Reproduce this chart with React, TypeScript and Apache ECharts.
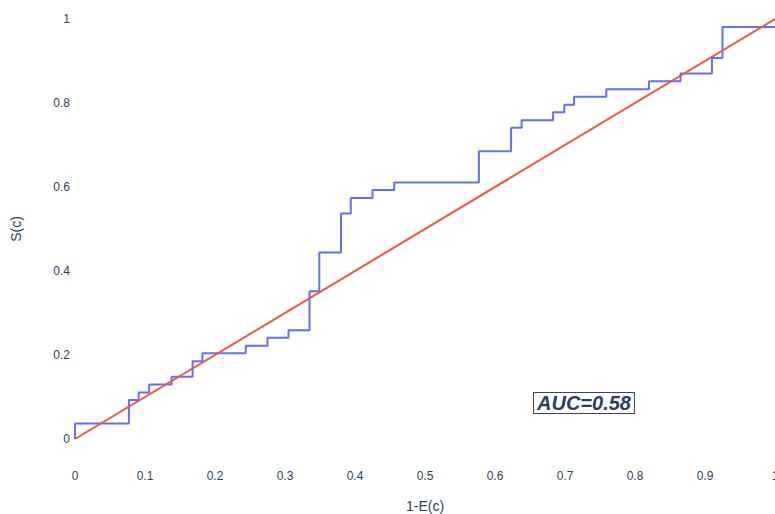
import React, { useEffect, useRef } from "react";
import * as echarts from "echarts";

const stepX = [0, 0, 0.077, 0.091, 0.106, 0.138, 0.168, 0.182, 0.244, 0.275, 0.305, 0.335, 0.349, 0.38, 0.394, 0.425, 0.456, 0.577, 0.623, 0.638, 0.683, 0.699, 0.713, 0.759, 0.82, 0.865, 0.91, 0.925, 1];
const stepY = [0, 0.037, 0.093, 0.111, 0.13, 0.148, 0.185, 0.204, 0.222, 0.241, 0.259, 0.352, 0.444, 0.537, 0.574, 0.593, 0.611, 0.685, 0.741, 0.759, 0.778, 0.796, 0.815, 0.833, 0.852, 0.87, 0.907, 0.981, 0.981];
const diagX = [0, 1];
const diagY = [0, 1];
const aucLabel = "AUC=0.58";

const FONT = "Liberation Sans, Arial, sans-serif";
const TXT = "#2a3f5f";

export default function App() {
  const ref = useRef<HTMLDivElement>(null);
  useEffect(() => {
    if (!ref.current) return;
    const chart = echarts.init(ref.current, null, { renderer: "svg" });
    chart.setOption({
      animation: false,
      backgroundColor: "#ffffff",
      textStyle: { fontFamily: FONT },
      grid: { left: 75, right: 0, top: 19, bottom: 75, containLabel: false, outerBoundsMode: "none" },
      xAxis: {
        type: "value",
        min: 0,
        max: 1,
        interval: 0.1,
        name: "1-E(c)",
        nameLocation: "middle",
        nameGap: 60,
        nameTextStyle: { color: TXT, fontSize: 14, fontFamily: FONT },
        axisLine: { show: false },
        axisTick: { show: false },
        splitLine: { show: false },
        axisLabel: { color: TXT, fontSize: 12, margin: 31, fontFamily: FONT, showMaxLabel: true },
      },
      yAxis: {
        type: "value",
        min: 0,
        max: 1,
        interval: 0.2,
        name: "S(c)",
        nameLocation: "middle",
        nameGap: 52,
        nameTextStyle: { color: TXT, fontSize: 14, fontFamily: FONT },
        axisLine: { show: false },
        axisTick: { show: false },
        splitLine: { show: false },
        axisLabel: { color: TXT, fontSize: 12, margin: 5, fontFamily: FONT },
      },
      series: [
        {
          type: "line",
          step: "end",
          data: stepX.map((x, i) => [x, stepY[i]]),
          showSymbol: false,
          clip: false,
          lineStyle: { color: "#636efa", width: 2 },
          z: 2,
        },
        {
          type: "line",
          data: diagX.map((x, i) => [x, diagY[i]]),
          showSymbol: false,
          clip: false,
          lineStyle: { color: "#EF553B", width: 2 },
          z: 3,
        },
      ],
      graphic: [
        {
          type: "text",
          left: 533,
          top: 392,
          style: {
            text: aucLabel,
            font: "italic bold 20px " + FONT,
            fill: TXT,
            backgroundColor: "#ffffff",
            borderColor: "#444444",
            borderWidth: 1,
            padding: [0, 3, 0, 3],
          },
        },
      ],
    });
    return () => chart.dispose();
  }, []);
  return <div ref={ref} style={{ position: "fixed", left: 0, top: 0, width: 775, height: 514 }} />;
}
